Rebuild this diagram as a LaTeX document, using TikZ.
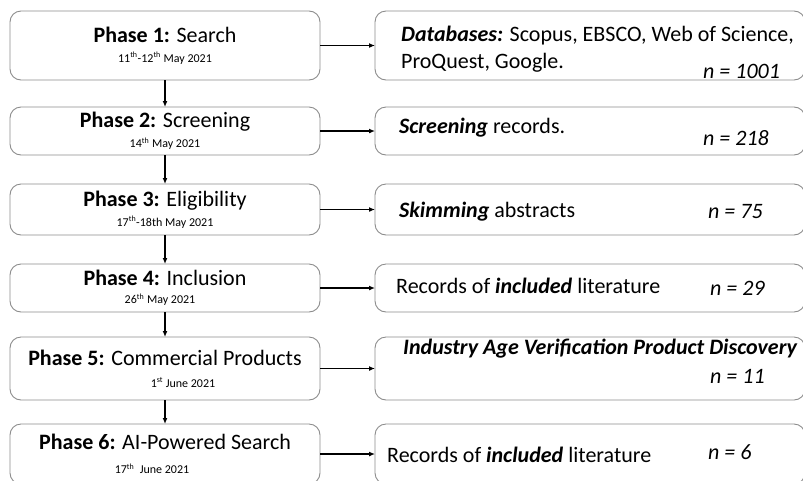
\documentclass[tikz,border=0pt]{standalone}
\usepackage{fontspec}
\setmainfont{Carlito}
\usetikzlibrary{positioning}
\usetikzlibrary{arrows.meta}

\newcommand{\datefont}{\fontsize{12}{14}\selectfont}
\newcommand{\sfx}[1]{\textsuperscript{#1}}

\begin{document}
\begin{tikzpicture}
		[x=1pt, y=1pt, >={Latex[length=6pt,width=5pt]},
		phase/.style={draw=black!45, line width=0.9pt, rounded corners=11pt, outer sep=0pt, minimum width=310pt, inner sep=0pt, align=center, font=\fontsize{22}{24}\selectfont},
		result/.style={draw=black!45, line width=0.9pt, rounded corners=11pt, outer sep=0pt, minimum width=430pt, inner sep=0pt},
		txt/.style={anchor=west, inner sep=0pt, font=\fontsize{22}{27}\selectfont, align=left},
		count/.style={anchor=west, inner sep=0pt, font=\fontsize{22}{27}\selectfont\itshape},
		flow/.style={->, line width=1.4pt}]
		\clip (0,0) rectangle (803,-480);

		\node[phase, minimum height=69pt] (p1) at (165,-45.5) {\textbf{Phase 1:} Search\\[-4pt]{\datefont 11\sfx{th}-12\sfx{th} May 2021}};
		\node[phase, minimum height=48pt, below=27pt of p1] (p2) {\textbf{Phase 2:} Screening\\[-4pt]{\datefont 14\sfx{th} May 2021}};
		\node[phase, minimum height=51pt, below=29pt of p2] (p3) {\textbf{Phase 3:} Eligibility\\[-4pt]{\datefont 17\sfx{th}-18th May 2021}};
		\node[phase, minimum height=48pt, below=29pt of p3] (p4) {\textbf{Phase 4:} Inclusion\\[-6pt]{\datefont\hspace*{-10pt}26\sfx{th} May 2021}};
		\node[phase, minimum height=63pt, below=25pt of p4] (p5) {\textbf{Phase 5:} Commercial Products\\[-2pt]{\datefont\hspace*{36pt}1\sfx{st} June 2021}};
		\node[phase, minimum height=60pt, below=24pt of p5] (p6) {\textbf{Phase 6:} AI-Powered Search\\[0pt]{\datefont\hspace*{-26pt}17\sfx{th}\ \ June 2021}};

		\node[result, minimum height=69pt, right=55pt of p1] (r1) {};
		\node[result, minimum height=48pt, right=55pt of p2] (r2) {};
		\node[result, minimum height=51pt, right=55pt of p3] (r3) {};
		\node[result, minimum height=48pt, right=55pt of p4] (r4) {};
		\node[result, minimum height=63pt, right=55pt of p5] (r5) {};
		\node[result, minimum height=60pt, right=55pt of p6] (r6) {};

		% texts in the result boxes
		\node[txt] (t1) at ([xshift=26pt,yshift=-4pt]r1.west) {\textbf{\textit{Databases:}} Scopus, EBSCO, Web of Science,\\ProQuest, Google.};
		\node[txt] (t2) at ([xshift=24pt,yshift=3pt]r2.west) {\textbf{\textit{Screening}} records.};
		\node[txt] (t3) at ([xshift=24pt,yshift=-2pt]r3.west) {\textbf{\textit{Skimming}} abstracts};
		\node[txt] (t4) at ([xshift=21pt,yshift=2pt]r4.west) {Records of \textbf{\textit{included}} literature};
		\node[txt] (t5) at ([xshift=28pt,yshift=20pt]r5.west) {\textbf{\textit{Industry Age Verification Product Discovery}}};
		\node[txt] (t6) at ([xshift=12pt,yshift=-1pt]r6.west) {Records of \textbf{\textit{included}} literature};

		\node[count] (n1) at ([xshift=328pt,yshift=-26pt]r1.west) {n = 1001};
		\node[count] (n2) at ([xshift=328pt,yshift=-7pt]r2.west) {n = 218};
		\node[count] (n3) at ([xshift=333pt,yshift=-2pt]r3.west) {n = 75};
		\node[count] (n4) at ([xshift=335pt]r4.west) {n = 29};
		\node[count] (n5) at ([xshift=335pt,yshift=-8pt]r5.west) {n = 11};
		\node[count] (n6) at ([xshift=333pt,yshift=2pt]r6.west) {n = 6};

		\draw[flow] (p1) -- (p2);
		\draw[flow] (p2) -- (p3);
		\draw[flow] (p3) -- (p4);
		\draw[flow] (p4) -- (p5);
		\draw[flow] (p5) -- (p6);

		\draw[flow] (p1) -- (r1);
		\draw[flow] (p2) -- (r2);
		\draw[flow] (p3) -- (r3);
		\draw[flow] (p4) -- (r4);
		\draw[flow] (p5) -- (r5);
		\draw[flow] (p6) -- (r6);
	\end{tikzpicture}
\end{document}
